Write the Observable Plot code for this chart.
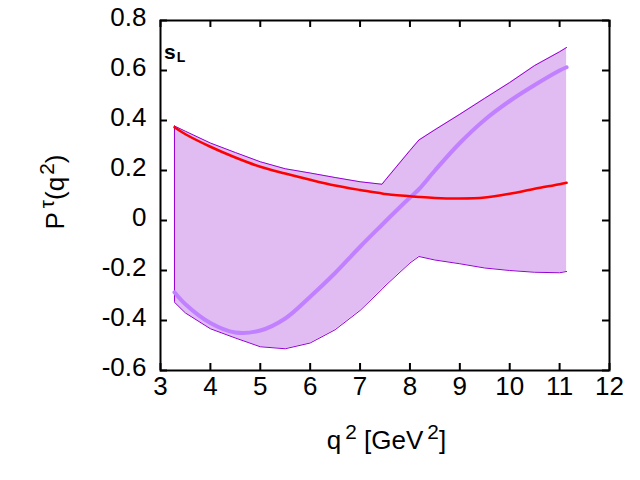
<!DOCTYPE html>
<html>
<head>
<meta charset="utf-8">
<script src="https://cdn.jsdelivr.net/npm/d3@7"></script>
<script src="https://cdn.jsdelivr.net/npm/@observablehq/plot@0.6"></script>
<style>
  html, body { margin: 0; padding: 0; background: white; }
  #chart { width: 640px; height: 480px; }
</style>
</head>
<body>
<div id="chart"></div>
<script>
const xs        = [3.28, 3.5, 4.0, 4.5, 5.0, 5.5, 6.0, 6.5, 7.0, 7.44, 7.5, 8.0, 8.18, 8.5, 9.0, 9.5, 10.0, 10.5, 11.0, 11.14];
const upper     = [0.378, 0.357, 0.31, 0.272, 0.235, 0.207, 0.19, 0.172, 0.155, 0.145, 0.16, 0.28, 0.322, 0.363, 0.425, 0.489, 0.552, 0.62, 0.675, 0.692];
const lower     = [-0.327, -0.37, -0.433, -0.47, -0.505, -0.513, -0.49, -0.437, -0.36, -0.275, -0.262, -0.17, -0.144, -0.158, -0.173, -0.19, -0.2, -0.207, -0.209, -0.204];
const redLine   = [0.373, 0.345, 0.295, 0.252, 0.215, 0.188, 0.163, 0.14, 0.122, 0.108, 0.106, 0.097, 0.094, 0.09, 0.088, 0.092, 0.107, 0.127, 0.145, 0.151];
const violetLine= [-0.287, -0.335, -0.41, -0.448, -0.44, -0.392, -0.305, -0.21, -0.105, -0.017, -0.005, 0.092, 0.125, 0.2, 0.31, 0.403, 0.478, 0.542, 0.6, 0.613];
const xTicks = [3, 4, 5, 6, 7, 8, 9, 10, 11, 12];
const xTickLabels = ["3", "4", "5", "6", "7", "8", "9", "10", "11", "12"];
const yTicks = [-0.6, -0.4, -0.2, 0, 0.2, 0.4, 0.6, 0.8];
const yTickLabels = ["-0.6", "-0.4", "-0.2", "0", "0.2", "0.4", "0.6", "0.8"];

const rows = xs.map((x, i) => ({x, lo: lower[i], hi: upper[i], red: redLine[i], vio: violetLine[i]}));

const FONT = "'Liberation Sans', Arial, Helvetica, sans-serif";
const FS = 26;
const W = 640, H = 480, ML = 160, MR = 31, MT = 20, MB = 110;
const TICK = 7;
const frameW = W - ML - MR, frameH = H - MT - MB;

const plot = Plot.plot({
  width: W, height: H,
  marginLeft: ML, marginRight: MR, marginTop: MT, marginBottom: MB,
  x: {domain: [3, 12]},
  y: {domain: [-0.6, 0.8]},
  style: {fontFamily: FONT, background: "white", color: "black"},
  marks: [
    Plot.areaY(rows, {x: "x", y1: "lo", y2: "hi", fill: "#e0bcf2"}),
    Plot.lineY(rows, {x: "x", y: "hi", stroke: "#9400d3", strokeWidth: 1}),
    Plot.lineY(rows, {x: "x", y: "lo", stroke: "#9400d3", strokeWidth: 1}),
    Plot.ruleX([rows[0]], {x: "x", y1: "lo", y2: "hi", stroke: "#9400d3", strokeWidth: 1}),
    Plot.lineY(rows, {x: "x", y: "vio", stroke: "#c080ff", strokeWidth: 4, curve: "catmull-rom"}),
    Plot.lineY(rows, {x: "x", y: "red", stroke: "#ff0000", strokeWidth: 2.5, curve: "catmull-rom"}),
    Plot.frame({stroke: "black", strokeWidth: 2}),
    // inward ticks on all four sides
    Plot.tickX(xTicks, {x: d => d, insetTop: frameH - TICK, stroke: "black", strokeWidth: 2}),
    Plot.tickX(xTicks, {x: d => d, insetBottom: frameH - TICK, stroke: "black", strokeWidth: 2}),
    Plot.tickY(yTicks, {y: d => d, insetRight: frameW - TICK, stroke: "black", strokeWidth: 2}),
    Plot.tickY(yTicks, {y: d => d, insetLeft: frameW - TICK, stroke: "black", strokeWidth: 2}),
    // tick labels
    Plot.axisX({anchor: "bottom", ticks: xTicks, tickSize: 0, tickPadding: 6, fontSize: FS, label: null,
      tickFormat: d => xTickLabels[xTicks.indexOf(d)]}),
    Plot.axisY({anchor: "left", ticks: yTicks, tickSize: 0, tickPadding: 14, dy: -3, fontSize: FS, label: null,
      tickFormat: d => yTickLabels[yTicks.findIndex(t => Math.abs(t - d) < 1e-9)]})
  ]
});

document.getElementById("chart").appendChild(plot);

// axis titles and in-plot label, with real superscripts/subscripts
const svg = d3.select(plot);
const cx = ML + frameW / 2;
const cy = MT + frameH / 2;

const xt = svg.append("text")
  .attr("x", cx + 2).attr("y", 449)
  .attr("text-anchor", "middle")
  .attr("font-family", FONT).attr("font-size", FS).attr("fill", "black");
xt.append("tspan").text("q");
xt.append("tspan").attr("dx", 4).attr("dy", -10).attr("font-size", FS * 0.8).text("2");
xt.append("tspan").attr("dy", 10).text(" [GeV");
xt.append("tspan").attr("dx", 4).attr("dy", -10).attr("font-size", FS * 0.8).text("2");
xt.append("tspan").attr("dy", 10).text("]");

const yt = svg.append("text")
  .attr("transform", `translate(64,${cy - 3}) rotate(-90)`)
  .attr("text-anchor", "middle")
  .attr("font-family", FONT).attr("font-size", FS).attr("fill", "black");
yt.append("tspan").text("P");
yt.append("tspan").attr("dx", 4).attr("dy", -10).attr("font-size", FS * 0.8).text("τ");
yt.append("tspan").attr("dy", 10).text("(q");
yt.append("tspan").attr("dx", 2).attr("dy", -10).attr("font-size", FS * 0.8).text("2");
yt.append("tspan").attr("dy", 10).text(")");

const sl = svg.append("text")
  .attr("x", ML + 4).attr("y", 59)
  .attr("text-anchor", "start")
  .attr("font-family", FONT).attr("font-size", 21).attr("font-weight", "bold").attr("fill", "black");
sl.append("tspan").text("s");
sl.append("tspan").attr("dx", 1).attr("dy", 3).attr("font-size", 14).text("L");
</script>
</body>
</html>
